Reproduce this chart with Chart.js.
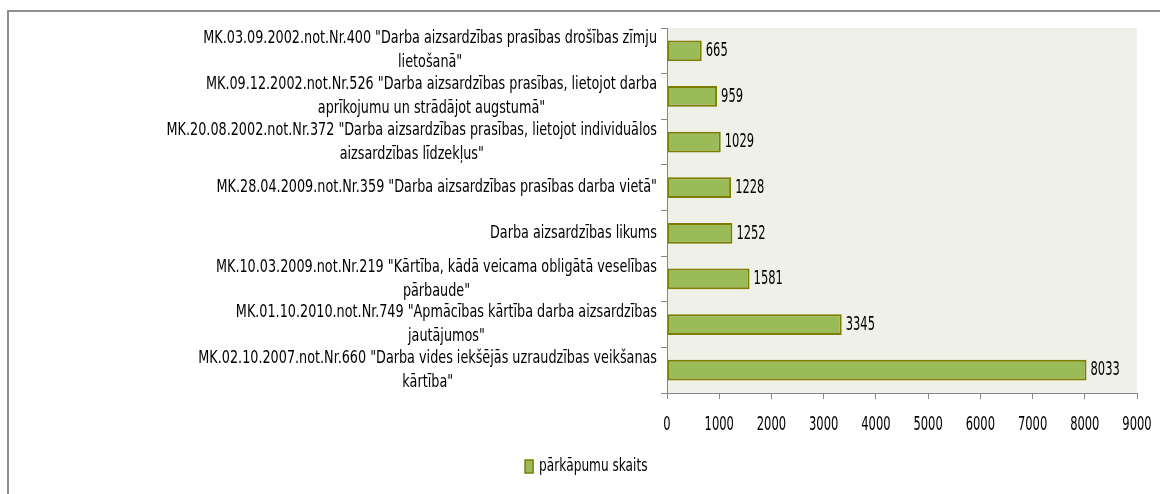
<!DOCTYPE html>
<html>
<head>
<meta charset="utf-8">
<script src="https://cdn.jsdelivr.net/npm/chart.js@4.4.1/dist/chart.umd.min.js"></script>
<style>
  html, body { margin: 0; padding: 0; background: #fff; width: 1160px; height: 494px; overflow: hidden; }
  #frameTop { position: absolute; left: 7px; top: 10px; width: 1153px; height: 2px; background: #8e8e8e; }
  #frameLeft { position: absolute; left: 7px; top: 10px; width: 2px; height: 484px; background: #8e8e8e; }
  #wrap { position: absolute; left: 9px; top: 13px; width: 1151px; height: 481px; }
</style>
</head>
<body>
<div id="frameTop"></div>
<div id="frameLeft"></div>
<div id="wrap"><canvas id="c"></canvas></div>
<script>
const categories = [
  ['MK.03.09.2002.not.Nr.400 "Darba aizsardzības prasības drošības zīmju', 'lietošanā"'],
  ['MK.09.12.2002.not.Nr.526 "Darba aizsardzības prasības, lietojot darba', 'aprīkojumu un strādājot augstumā"'],
  ['MK.20.08.2002.not.Nr.372 "Darba aizsardzības prasības, lietojot individuālos', 'aizsardzības līdzekļus"'],
  ['MK.28.04.2009.not.Nr.359 "Darba aizsardzības prasības darba vietā"'],
  ['Darba aizsardzības likums'],
  ['MK.10.03.2009.not.Nr.219 "Kārtība, kādā veicama obligātā veselības', 'pārbaude"'],
  ['MK.01.10.2010.not.Nr.749 "Apmācības kārtība darba aizsardzības', 'jautājumos"'],
  ['MK.02.10.2007.not.Nr.660 "Darba vides iekšējās uzraudzības veikšanas', 'kārtība"']
];
const seriesName = 'pārkāpumu skaits';
const violations = [665, 959, 1029, 1228, 1252, 1581, 3345, 8033];
const xTicks = [0, 1000, 2000, 3000, 4000, 5000, 6000, 7000, 8000, 9000];

const FONT = "'DejaVu Sans Condensed', 'Liberation Sans Narrow', sans-serif";
const AXIS = '#868686';

// draw horizontally condensed text (Calibri-like tall narrow look)
function drawText(ctx, text, x, y, align, size, sx) {
  ctx.save();
  ctx.font = size + 'px ' + FONT;
  ctx.fillStyle = '#000';
  ctx.textAlign = align;
  ctx.textBaseline = 'middle';
  ctx.translate(x, y);
  ctx.scale(sx, 1);
  ctx.fillText(text, 0, 0);
  ctx.restore();
}
function textWidth(ctx, text, size, sx) {
  ctx.save();
  ctx.font = size + 'px ' + FONT;
  const w = ctx.measureText(text).width * sx;
  ctx.restore();
  return w;
}

const LBL = { size: 18, sx: 0.79 };
const NUM = { size: 20, sx: 0.64 };

const plotBg = {
  id: 'plotBg',
  beforeDraw(chart) {
    const a = chart.chartArea, ctx = chart.ctx;
    ctx.save();
    ctx.fillStyle = '#eff1e8';
    ctx.fillRect(a.left, a.top, a.right - a.left, a.bottom - a.top);
    ctx.restore();
  }
};

const valueLabels = {
  id: 'valueLabels',
  afterDatasetsDraw(chart) {
    const ctx = chart.ctx;
    const meta = chart.getDatasetMeta(0);
    meta.data.forEach((bar, i) => {
      drawText(ctx, String(chart.data.datasets[0].data[i]), bar.x + 4, bar.y, 'left', NUM.size, NUM.sx);
    });
  }
};

const axisLabels = {
  id: 'axisLabels',
  afterDraw(chart) {
    const ctx = chart.ctx;
    const ys = chart.scales.y, xs = chart.scales.x;
    const right = ys.right - 10;
    const lh = 24;
    chart.data.labels.forEach((lines, i) => {
      const w = Math.max(...lines.map(l => textWidth(ctx, l, LBL.size, LBL.sx)));
      const cx = right - w / 2;
      const cy = ys.getPixelForTick(i);
      const y0 = cy - (lines.length - 1) * lh / 2;
      lines.forEach((l, k) => drawText(ctx, l, cx, y0 + k * lh, 'center', LBL.size, LBL.sx));
    });
    xTicks.forEach(v => {
      drawText(ctx, String(v), xs.getPixelForValue(v), xs.top + 32, 'center', NUM.size, NUM.sx);
    });
    // legend text
    const lg = chart.legend;
    if (lg && lg.legendHitBoxes && lg.legendHitBoxes.length) {
      const hb = lg.legendHitBoxes[0];
      const bw = lg.options.labels.boxWidth;
      drawText(ctx, seriesName, hb.left + bw + 6, hb.top + hb.height / 2, 'left', LBL.size, 0.75);
    }
  }
};

new Chart(document.getElementById('c'), {
  type: 'bar',
  data: {
    labels: categories,
    datasets: [{
      label: seriesName,
      data: violations,
      backgroundColor: '#9bbb59',
      borderColor: '#7d7d00',
      borderWidth: 2,
      borderSkipped: false,
      barPercentage: 0.68,
      categoryPercentage: 0.67
    }]
  },
  options: {
    indexAxis: 'y',
    responsive: true,
    maintainAspectRatio: false,
    animation: false,
    devicePixelRatio: 1,
    layout: { padding: { top: 15, right: 23, left: 0, bottom: 11 } },
    plugins: {
      tooltip: { enabled: false },
      legend: {
        position: 'bottom',
        labels: {
          boxWidth: 8,
          boxHeight: 13,
          color: 'rgba(0,0,0,0)',
          font: { family: FONT, size: 10.3 },
          padding: 10,
          generateLabels(chart) {
            const ds = chart.data.datasets[0];
            return [{ text: ds.label, fillStyle: ds.backgroundColor, strokeStyle: ds.borderColor, lineWidth: 1.5, fontColor: 'rgba(0,0,0,0)', datasetIndex: 0 }];
          }
        }
      }
    },
    scales: {
      x: {
        min: 0, max: 9000,
        afterBuildTicks(scale) { scale.ticks = xTicks.map(v => ({ value: v })); },
        afterFit(scale) { scale.height = 57; },
        grid: { drawOnChartArea: false, tickLength: 6, color: AXIS },
        border: { color: AXIS, width: 1 },
        ticks: { callback: () => '', color: 'rgba(0,0,0,0)', font: { family: FONT, size: 10 }, padding: 0, maxRotation: 0 }
      },
      y: {
        afterFit(scale) { scale.width = 658; },
        grid: { drawOnChartArea: false, tickLength: 6, color: AXIS, offset: true },
        border: { color: AXIS, width: 1 },
        ticks: { callback: () => '', color: 'rgba(0,0,0,0)', autoSkip: false, font: { family: FONT, size: 10 }, padding: 0 }
      }
    }
  },
  plugins: [plotBg, valueLabels, axisLabels]
});
</script>
</body>
</html>
